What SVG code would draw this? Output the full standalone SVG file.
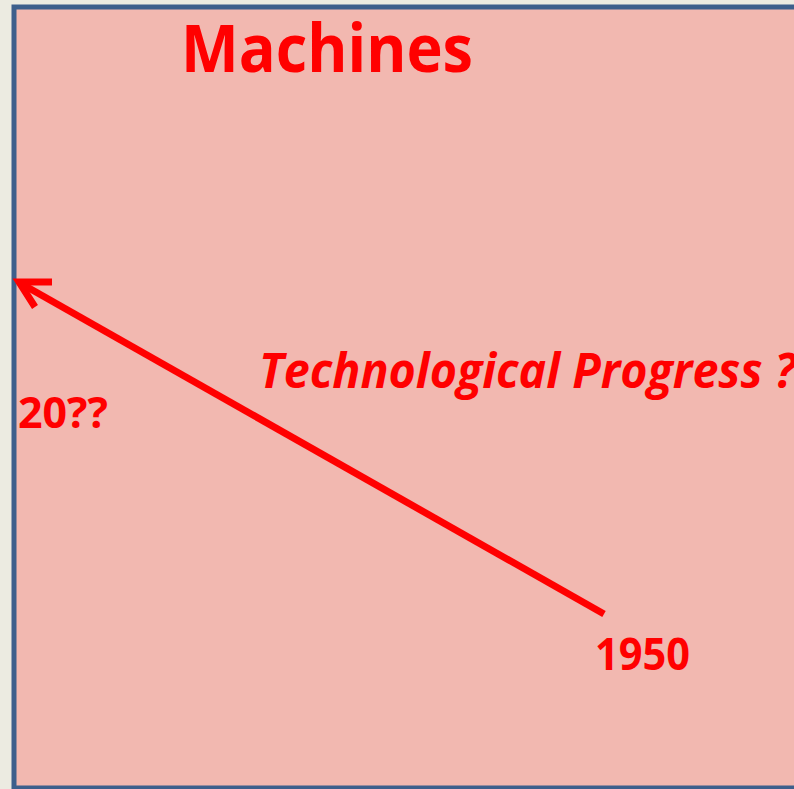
<svg xmlns="http://www.w3.org/2000/svg" width="794" height="789" viewBox="0 0 794 789">
<style>
.t{fill:#FF0000;font-family:"Open Sans","Liberation Sans",sans-serif;font-weight:bold}
.c{stroke:#FF0000;stroke-width:7;fill:none;stroke-linecap:butt}
</style>
<rect x="0" y="0" width="794" height="789" fill="#ECEBE1"/>
<g id="panel">
<rect x="14" y="7" width="800" height="781" fill="#F2B8B0" stroke="#3D5F8C" stroke-width="5"/>
</g>
<g id="title"><text class="t" x="181" y="72" font-size="67" textLength="292" lengthAdjust="spacingAndGlyphs">Machines</text></g>
<g id="connectors">
<line class="c" x1="604" y1="614" x2="20" y2="283"/>
<polyline class="c" points="52,282 19,282 35,307" stroke-linejoin="miter"/>
</g>
<g id="label-progress"><text class="t" x="259" y="388" font-size="49" font-style="italic" textLength="537" lengthAdjust="spacingAndGlyphs">Technological Progress ?</text></g>
<g id="label-20"><text class="t" x="18" y="428" font-size="43" textLength="90" lengthAdjust="spacingAndGlyphs">20??</text></g>
<g id="label-1950"><text class="t" x="595" y="670" font-size="44" textLength="95" lengthAdjust="spacingAndGlyphs">1950</text></g>
</svg>
